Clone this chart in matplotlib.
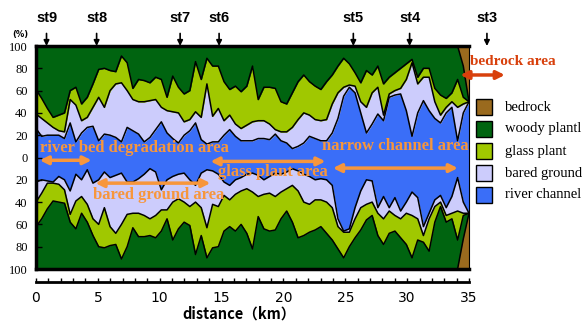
import numpy as np
import matplotlib
matplotlib.use('Agg')
import matplotlib.pyplot as plt
from matplotlib.patches import Rectangle

# cross-section points along the reach (km)
distance = np.linspace(0, 35, 77)

# land cover share (%) above the centre line
upper_river = [26, 19, 20, 20, 20, 17, 31, 14, 22, 27, 28, 15, 21, 20, 18, 14, 27, 24, 21, 14,
               18, 25, 32, 22, 17, 13, 20, 24, 31, 16, 12, 14, 14, 20, 25, 19, 15, 15, 15, 17,
               17, 16, 21, 15, 13, 8, 10, 13, 19, 17, 15, 15, 22, 35, 55, 63, 58, 40, 22, 30,
               39, 33, 54, 56, 57, 42, 19, 40, 51, 42, 35, 31, 40, 45, 15, 40, 50]
upper_bared = [13, 16, 11, 7, 4, 6, 21, 33, 11, 9, 17, 39, 24, 40, 48, 53, 33, 28, 29, 36,
               33, 27, 13, 20, 24, 27, 12, 10, 10, 20, 54, 23, 30, 13, 13, 11, 11, 14, 17, 16,
               16, 14, 4, 8, 10, 19, 24, 27, 19, 17, 18, 19, 26, 23, 8, 2, 6, 10, 23, 28,
               24, 5, 3, 4, 5, 28, 66, 26, 21, 30, 15, 7, 5, 5, 30, 8, 0]
upper_glass = [22, 18, 13, 9, 14, 17, 8, 16, 15, 18, 21, 25, 35, 18, 11, 24, 25, 10, 20, 19,
               16, 20, 25, 12, 32, 23, 25, 26, 45, 34, 23, 45, 38, 35, 23, 34, 33, 35, 50, 19,
               30, 33, 37, 27, 25, 31, 34, 34, 30, 30, 28, 34, 26, 24, 26, 19, 12, 17, 33, 16,
               19, 28, 15, 16, 18, 14, 3, 6, 8, 8, 12, 18, 8, 8, 25, 6, 0]
upper_woody = [39, 47, 56, 64, 62, 60, 40, 37, 52, 46, 34, 21, 20, 22, 23, 9, 15, 38, 30, 31,
               33, 28, 30, 46, 27, 37, 43, 40, 14, 30, 11, 18, 18, 32, 39, 36, 41, 36, 18, 48,
               37, 37, 38, 50, 52, 42, 32, 26, 32, 36, 39, 32, 26, 18, 11, 16, 24, 33, 22, 26,
               18, 34, 28, 24, 20, 16, 12, 28, 20, 20, 38, 44, 47, 42, 30, 28, 0]
upper_rock = [0] * 74 + [0, 18, 50]

# land cover share (%) below the centre line
lower_river = [22, 20, 21, 22, 17, 20, 30, 15, 20, 11, 23, 20, 13, 18, 16, 14, 22, 22, 19, 15,
               10, 13, 29, 20, 17, 15, 14, 20, 25, 14, 11, 12, 15, 22, 25, 20, 18, 15, 14, 16,
               20, 17, 14, 15, 13, 10, 12, 15, 17, 20, 19, 20, 25, 55, 66, 64, 45, 30, 20, 21,
               45, 35, 45, 36, 48, 40, 31, 36, 62, 50, 38, 34, 45, 35, 18, 40, 50]
lower_bared = [18, 12, 2, 1, 7, 9, 21, 24, 15, 31, 32, 40, 32, 44, 52, 46, 29, 28, 31, 37,
               45, 39, 18, 27, 23, 22, 26, 24, 15, 31, 52, 30, 29, 12, 13, 13, 12, 13, 17, 19,
               13, 15, 21, 16, 15, 15, 18, 25, 25, 18, 19, 20, 20, 7, 1, 3, 10, 15, 22, 19,
               5, 20, 3, 16, 7, 10, 21, 19, 8, 5, 6, 6, 7, 15, 30, 10, 0]
lower_glass = [22, 23, 23, 16, 16, 12, 7, 25, 15, 16, 15, 20, 36, 17, 10, 31, 29, 13, 21, 19,
               15, 20, 19, 8, 34, 27, 18, 17, 47, 25, 27, 39, 36, 32, 24, 33, 30, 40, 51, 18,
               31, 34, 30, 24, 20, 33, 42, 30, 25, 27, 24, 28, 29, 20, 23, 13, 17, 20, 14, 12,
               20, 23, 20, 14, 17, 28, 38, 19, 6, 29, 14, 4, 6, 5, 26, 2, 0]
lower_woody = [38, 45, 54, 61, 60, 59, 42, 36, 50, 42, 30, 20, 19, 21, 22, 9, 20, 37, 29, 29,
               30, 28, 34, 45, 26, 36, 42, 39, 13, 30, 10, 19, 20, 34, 38, 34, 40, 32, 18, 47,
               36, 34, 35, 45, 52, 42, 28, 30, 33, 35, 38, 32, 26, 18, 10, 20, 28, 35, 44, 48,
               30, 22, 32, 34, 28, 22, 10, 26, 24, 16, 42, 56, 42, 45, 26, 21, 0]
lower_rock = [0] * 74 + [0, 27, 50]

categories = ['river channel', 'bared ground', 'glass plant', 'woody plantl', 'bedrock']
colors = ['#3a6ef8', '#ccccfc', '#a0c800', '#006410', '#9a6a1e']

stations = ['st9', 'st8', 'st7', 'st6', 'st5', 'st4', 'st3']
station_km = [0.85, 4.9, 11.65, 14.8, 25.65, 30.2, 36.45]

orange = '#f7963c'
serif = 'Liberation Serif'
sans = 'Liberation Sans'

fig = plt.figure(figsize=(5.84, 3.23), dpi=100)
ax = fig.add_axes([36 / 584, 54 / 323, 433 / 584, 223 / 323])

upper = np.array([upper_river, upper_bared, upper_glass, upper_woody, upper_rock], dtype=float)
lower = np.array([lower_river, lower_bared, lower_glass, lower_woody, lower_rock], dtype=float)

ax.stackplot(distance, *upper, colors=colors, edgecolor='face', linewidth=0.4)
ax.stackplot(distance, *(-lower), colors=colors, edgecolor='face', linewidth=0.4)

# black outlines between the cover classes
for cum, sign in ((np.cumsum(upper, axis=0), 1), (np.cumsum(lower, axis=0), -1)):
    for k in range(4):
        ax.plot(distance, sign * cum[k], color='black', lw=1.1, zorder=3)

ax.set_xlim(0, 35)
ax.set_ylim(-100, 100)

yt = np.arange(-100, 101, 20)
ax.set_yticks(yt)
ax.set_yticklabels([str(abs(v)) for v in yt], fontfamily=serif, fontsize=9)
ax.tick_params(axis='y', direction='in', length=4, width=1, pad=6)

ax.set_xticks(np.arange(0, 36, 5))
ax.set_xticks(np.arange(0, 36, 1), minor=True)
ax.set_xticklabels([str(v) for v in range(0, 36, 5)], fontfamily=sans,
                   fontweight='bold', fontsize=11.5)
ax.tick_params(axis='x', which='both', direction='in', length=3, width=1, pad=7)

ax.spines['top'].set_linewidth(2.5)
ax.spines['left'].set_linewidth(2.5)
ax.spines['right'].set_linewidth(0.8)
ax.spines['bottom'].set_position(('outward', 9))
ax.spines['bottom'].set_linewidth(2)
ax.axhline(-100, color='black', lw=2.5, clip_on=False, zorder=5)

ax.set_xlabel('distance（km）', fontfamily='Noto Sans CJK JP', fontweight='bold',
              fontsize=10.5)
ax.xaxis.set_label_coords((239 - 36) / 433, -0.165)
fig.text(20 / 584, 1 - 34 / 323, '(%)', fontsize=6, fontweight='bold',
         ha='center', va='center')

# station markers along the top
for name, km in zip(stations, station_km):
    ax.annotate(name, xy=(km, 100), xytext=(km, 125), fontfamily=sans, fontweight='bold',
                fontsize=10.5, ha='center', va='center', annotation_clip=False,
                arrowprops=dict(arrowstyle='-|>', color='black', lw=1.2,
                                mutation_scale=8, shrinkA=4, shrinkB=0))

# reach labels with their extents
def reach(x0, x1, y, color):
    ax.annotate('', xy=(x0, y), xytext=(x1, y), annotation_clip=False,
                arrowprops=dict(arrowstyle='<|-|>', color=color, lw=2.5,
                                mutation_scale=12, shrinkA=0, shrinkB=0))

text_kw = dict(fontfamily=serif, fontweight='bold', ha='left', va='center', zorder=6)
ax.text(0.3, 8.5, 'river bed degradation area', color=orange, fontsize=12, **text_kw)
reach(0.3, 4.5, -2.5, orange)
ax.text(4.6, -34, 'bared ground area', color=orange, fontsize=12, **text_kw)
reach(4.8, 14.1, -23, orange)
ax.text(14.7, -13, 'glass plant area', color=orange, fontsize=12, **text_kw)
reach(14.1, 23.4, -3.5, orange)
ax.text(23.1, 10, 'narrow channel area', color=orange, fontsize=12, **text_kw)
reach(24.0, 34.1, -9.5, orange)
ax.text(35.1, 86, 'bedrock area', color='#d8400c', fontsize=11, clip_on=False, **text_kw)
reach(34.3, 37.9, 74, '#d8400c')

# legend, bedrock on top
for i, (name, c) in enumerate(zip(categories[::-1], colors[::-1])):
    yc = 107 + 22 * i
    fig.add_artist(Rectangle((476 / 584, 1 - (yc + 8) / 323), 16 / 584, 16 / 323,
                             facecolor=c, edgecolor='black', lw=1,
                             transform=fig.transFigure))
    fig.text(505 / 584, 1 - yc / 323, name, fontfamily=serif, fontsize=10.5, va='center')

fig.savefig('out.png', dpi=100)
